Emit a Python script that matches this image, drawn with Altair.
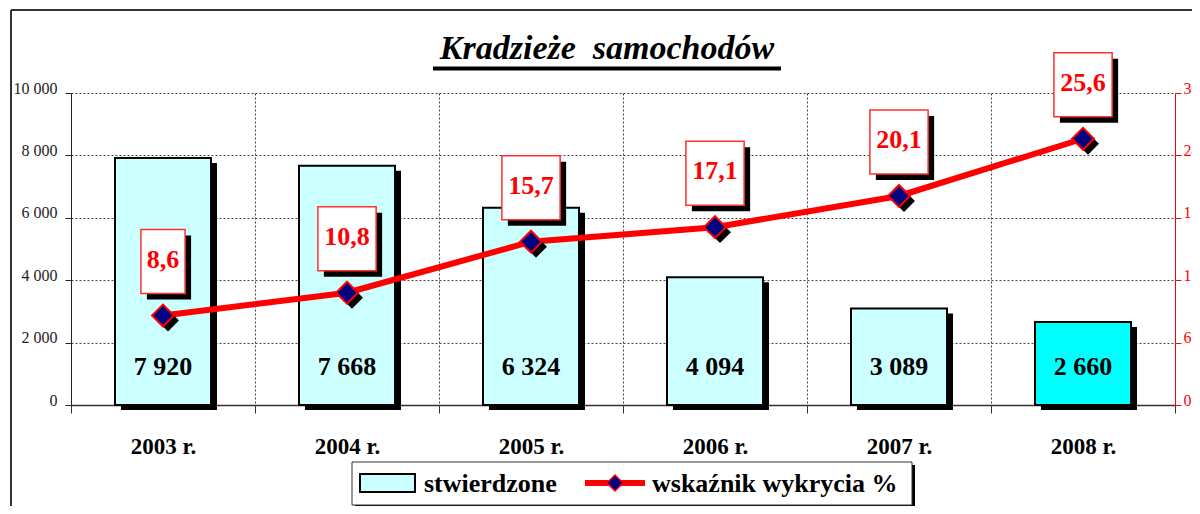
import altair as alt
import pandas as pd

# ---- data ----
years = ["2003 r.", "2004 r.", "2005 r.", "2006 r.", "2007 r.", "2008 r."]
stwierdzone = [7920, 7668, 6324, 4094, 3089, 2660]
stwierdzone_lbl = ["7 920", "7 668", "6 324", "4 094", "3 089", "2 660"]
wskaznik = [8.6, 10.8, 15.7, 17.1, 20.1, 25.6]
wskaznik_lbl = ["8,6", "10,8", "15,7", "17,1", "20,1", "25,6"]
left_ticks = [0, 2000, 4000, 6000, 8000, 10000]
right_ticks = [0, 6, 12, 18, 24, 30]
title_text = "Kradzieże\u00a0 samochodów"
legend_bar = "stwierdzone"
legend_line = "wskaźnik wykrycia %"

FONT = "Liberation Serif"
RED = "#FF0000"
W, H = 1104, 312

df = pd.DataFrame({
    "year": years,
    "count": stwierdzone,
    "count_lbl": stwierdzone_lbl,
    "rate": wskaznik,
    "rate_lbl": wskaznik_lbl,
})
one = pd.DataFrame({"a": [0]})

xscale = alt.Scale(paddingInner=0, paddingOuter=0)
xaxis = alt.Axis(tickBand="extent", grid=True, gridDash=[2, 2], gridColor="#444",
                 gridWidth=1, domainColor="#333", domainWidth=1.5, tickColor="#333",
                 tickSize=8, labelFont=FONT, labelFontSize=23, labelFontWeight="bold",
                 labelColor="black", labelPadding=40, labelBaseline="alphabetic",
                 labelAngle=0, title=None)
X = alt.X("year:N", sort=years, scale=xscale, title=None, axis=xaxis)

lscale = alt.Scale(domain=[0, 10000], nice=False)
laxis = alt.Axis(values=left_ticks,
                 labelExpr="replace(format(datum.value, ','), ',', ' ')",
                 grid=True, gridDash=[2, 2], gridColor="#444", gridWidth=1,
                 domainColor="#222", tickColor="#222", tickSize=6,
                 labelFont=FONT, labelFontSize=16, labelColor="#222",
                 labelPadding=8, labelBaseline="alphabetic", labelFlush=False, title=None)
YL = alt.Y("count:Q", scale=lscale, title=None, axis=laxis)

rscale = alt.Scale(domain=[0, 30], nice=False)
raxis = alt.Axis(orient="right", values=right_ticks, grid=False,
                 domainColor=RED, tickColor=RED, labelColor=RED, tickSize=6,
                 labelPadding=2, labelFont=FONT, labelFontSize=16,
                 labelBaseline="alphabetic", labelFlush=False, title=None)
YR = alt.Y("rate:Q", scale=rscale, title=None, axis=raxis)

# ---- bars ----
bar_shadow = alt.Chart(df).mark_bar(size=96, color="black", xOffset=6, yOffset=5, y2Offset=2).encode(
    x=X, y=YL)
bars = alt.Chart(df).mark_bar(size=96, stroke="black", strokeWidth=2).encode(
    x=X, y=YL,
    fill=alt.condition(alt.datum.year == "2008 r.", alt.value("#00FFFF"), alt.value("#CCFFFF")))
bar_text = alt.Chart(df).mark_text(font=FONT, fontSize=26, fontWeight="bold", baseline="alphabetic",
                                   dy=-30, color="black").encode(
    x=X, y=alt.Y(datum=0, scale=lscale, title=None, axis=laxis), text="count_lbl:N")
left = alt.layer(bar_shadow, bars, bar_text)

# ---- line + labels ----
box_shapes = alt.Scale(domain=["n", "w"],
                       range=["M-0.69,-1H0.69V1H-0.69Z", "M-0.91,-1H0.91V1H-0.91Z"])
base_r = alt.Chart(df).transform_calculate(bw="length(datum.rate_lbl) > 3 ? 'w' : 'n'")
line = base_r.mark_line(color=RED, strokeWidth=6).encode(x=X, y=YR)
mk_shadow = base_r.mark_point(shape="diamond", size=480, filled=True, fill="black", opacity=1,
                              xOffset=5, yOffset=5).encode(x=X, y=YR)
mk = base_r.mark_point(shape="diamond", size=480, filled=True, fill="#000080", stroke=RED,
                       strokeWidth=2, opacity=1).encode(x=X, y=YR)
box_shadow = base_r.mark_point(size=4096, filled=True, fill="black", opacity=1,
                               xOffset=6, yOffset=-48).encode(
    x=X, y=YR, shape=alt.Shape("bw:N", scale=box_shapes, legend=None))
box = base_r.mark_point(size=4096, filled=True, fill="white", stroke="#FF3030", strokeWidth=1.5,
                        opacity=1, yOffset=-54).encode(
    x=X, y=YR, shape=alt.Shape("bw:N", scale=box_shapes, legend=None))
box_text = base_r.mark_text(font=FONT, fontSize=26, fontWeight="bold", baseline="alphabetic",
                            dy=-48, color=RED).encode(x=X, y=YR, text="rate_lbl:N")
right = alt.layer(line, mk_shadow, mk, box_shadow, box, box_text)

# ---- decorations: frame, title, legend ----
deco = alt.Chart(one)
frame_v = deco.mark_rule(color="#333", strokeWidth=2).encode(
    x=alt.value(-60), y=alt.value(-83), y2=alt.value(430))
frame_h = deco.mark_rule(color="#333", strokeWidth=2).encode(
    x=alt.value(-60), x2=alt.value(1140), y=alt.value(-83))
title = deco.mark_text(font=FONT, fontSize=34, fontStyle="italic", fontWeight="bold",
                       align="center", baseline="alphabetic", color="black").encode(
    x=alt.value(536), y=alt.value(-34), text=alt.value(title_text))
underline = deco.mark_rule(color="black", strokeWidth=4).encode(
    x=alt.value(362), x2=alt.value(710), y=alt.value(-24.5))
leg_shadow = deco.mark_rect(color="black").encode(
    x=alt.value(284), x2=alt.value(844), y=alt.value(372), y2=alt.value(415))
leg_box = deco.mark_rect(fill="white", stroke="#333", strokeWidth=1).encode(
    x=alt.value(281), x2=alt.value(841), y=alt.value(369), y2=alt.value(412))
leg_swatch = deco.mark_rect(fill="#CCFFFF", stroke="black", strokeWidth=2).encode(
    x=alt.value(289), x2=alt.value(344), y=alt.value(381), y2=alt.value(399))
leg_t1 = deco.mark_text(font=FONT, fontSize=26, fontWeight="bold", align="left",
                        baseline="alphabetic", color="black").encode(
    x=alt.value(353), y=alt.value(399), text=alt.value(legend_bar))
leg_line = deco.mark_rule(color=RED, strokeWidth=6).encode(
    x=alt.value(514), x2=alt.value(574), y=alt.value(390))
leg_mk = deco.mark_point(shape="diamond", size=256, filled=True, fill="#000080", stroke=RED,
                         strokeWidth=1.5, opacity=1).encode(x=alt.value(544), y=alt.value(390))
leg_t2 = deco.mark_text(font=FONT, fontSize=26, fontWeight="bold", align="left",
                        baseline="alphabetic", color="black").encode(
    x=alt.value(581), y=alt.value(399), text=alt.value(legend_line))

chart = alt.layer(
    left, right, frame_v, frame_h, title, underline,
    leg_shadow, leg_box, leg_swatch, leg_t1, leg_line, leg_mk, leg_t2
).resolve_scale(y="independent").properties(
    width=W, height=H,
    autosize=alt.AutoSizeParams(type="none"),
    padding={"left": 63, "top": 85, "right": 17, "bottom": 101},
    background="white",
).configure_view(stroke=None)

chart.save("out.html", embed_options={"renderer": "svg", "actions": False})
